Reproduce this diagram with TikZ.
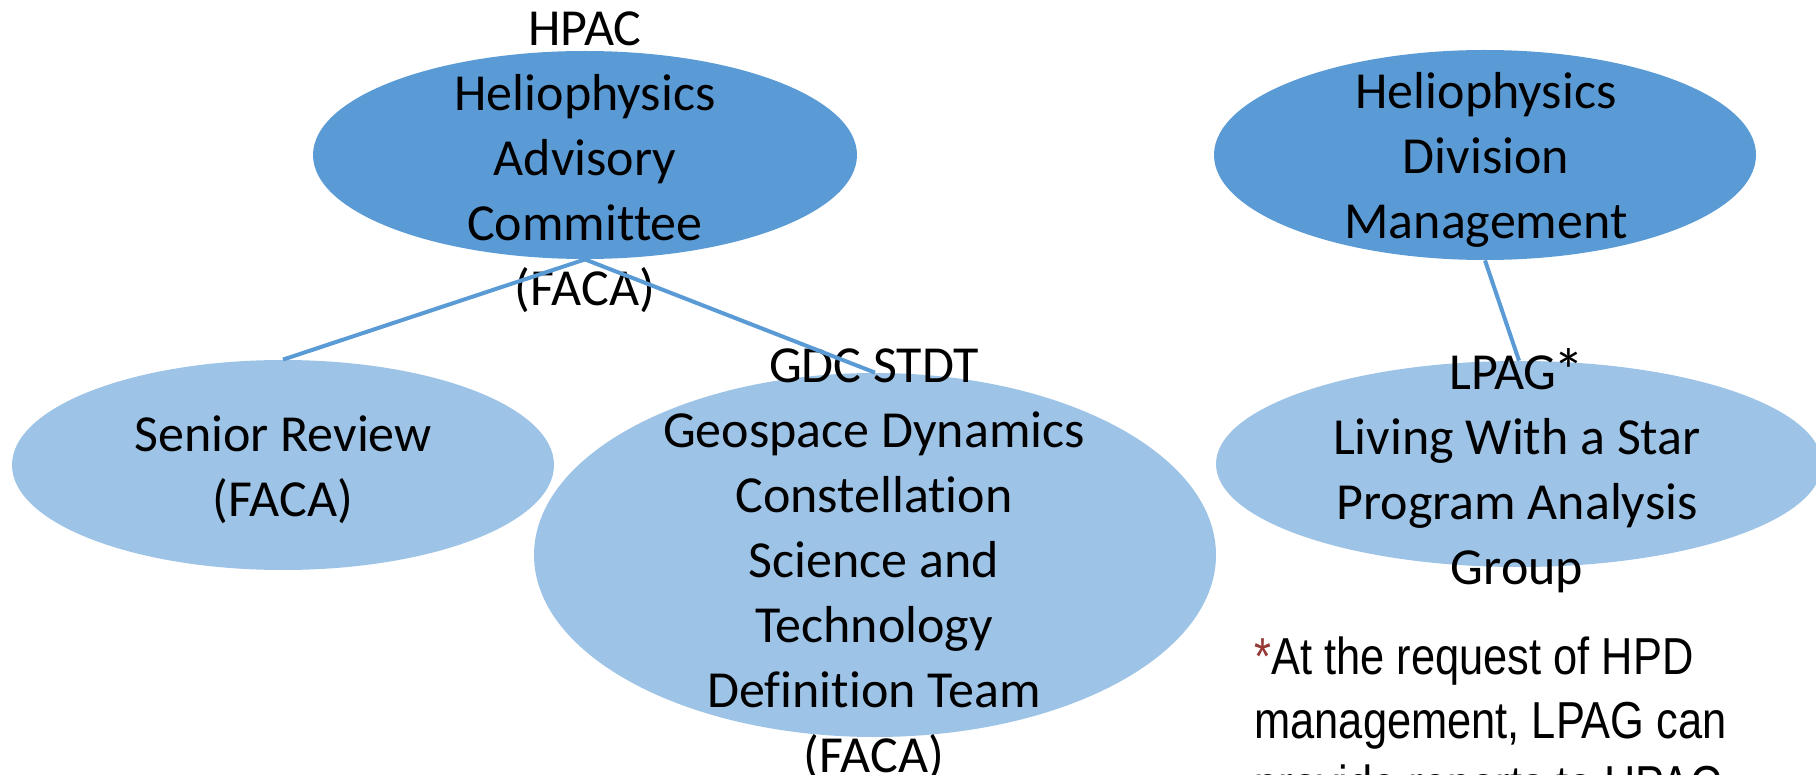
\documentclass[tikz,border=0pt]{standalone}
\usepackage{fontspec}
\setmainfont[Ligatures=NoCommon]{Carlito}
\newfontfamily\notefont[FakeStretch=0.835]{Liberation Sans}
\usepackage{tikz}
\usetikzlibrary{shapes.geometric}
\definecolor{darkblue}{HTML}{5B9BD5}
\definecolor{lightblue}{HTML}{9DC3E6}
\definecolor{stardark}{HTML}{953735}
\newcommand{\lpagstar}{\kern-1.5pt\raisebox{-1.5pt}{\fontsize{31}{31}\selectfont *}}

\begin{document}
\begin{tikzpicture}[x=0.5pt, y=-0.5pt,
  topnode/.style={ellipse, fill=darkblue, inner sep=0pt},
  subnode/.style={ellipse, fill=lightblue, inner sep=0pt},
  nodetext/.style={align=center, inner sep=0pt, font=\fontsize{26}{32.5}\selectfont},
  notetext/.style={align=left, anchor=north west, inner sep=0pt, font=\notefont\fontsize{26}{32}\selectfont},
  link/.style={draw=darkblue, line width=2pt}
]
\useasboundingbox (0,0) rectangle (1816,775);

\node[topnode, minimum width=272pt, minimum height=104pt] (hpac) at (585,155) {};
\node[topnode, minimum width=271pt, minimum height=105pt] (hdm) at (1485,155) {};
\node[subnode, minimum width=271pt, minimum height=105pt] (sr) at (283,465) {};
\node[subnode, minimum width=341pt, minimum height=182pt] (gdc) at (875,555) {};
\node[subnode, minimum width=303pt, minimum height=103pt] (lpag) at (1519,464) {};

\node[nodetext] (hpactext) at (585,162) {HPAC\\Heliophysics\\Advisory\\Committee\\(FACA)};
\node[nodetext] (hdmtext) at (1486,160) {Heliophysics\\Division\\Management};
\node[nodetext] (srtext) at (283,470) {Senior Review\\(FACA)};
\node[nodetext] (gdctext) at (874,564) {GDC STDT\\Geospace Dynamics\\Constellation\\Science and\\Technology\\Definition Team\\(FACA)};
\node[nodetext] (lpagtext) at (1517,471) {LPAG\lpagstar\\Living With a Star\\Program Analysis\\Group};

\node[notetext] (note) at (1254,636) {\textcolor{stardark}{*}At the request of HPD\\management, LPAG can\\provide reports to HPAC};

% Connections
\draw[link] (hpac.south) -- (sr.north);
\draw[link] (hpac.south) -- (gdc.north);
\draw[link] (hdm.south) -- (lpag.north);

\end{tikzpicture}
\end{document}
